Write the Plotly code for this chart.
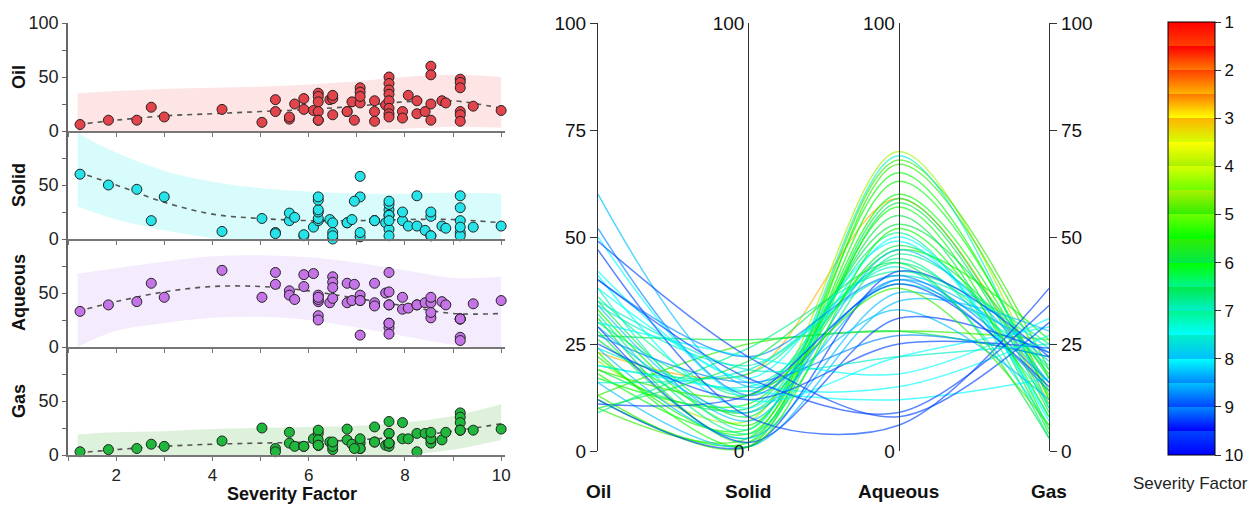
import plotly.graph_objects as go

# ---------------- scatter data (left panels) ----------------
severity = [1.25, 1.84, 2.43, 2.73, 3.00, 4.20, 5.03, 5.31, 5.31, 5.60, 5.60, 5.71, 5.90, 5.90,
            6.10, 6.20, 6.20, 6.20, 6.20, 6.20, 6.20, 6.44, 6.50, 6.50, 6.50, 6.50, 6.80, 6.80,
            6.90, 7.07, 7.07, 7.07, 7.07, 6.95, 7.37, 7.37, 7.37, 7.60, 7.67, 7.67, 7.67, 7.67,
            7.67, 7.67, 7.67, 7.67, 7.95, 7.95, 8.07, 8.25, 8.25, 8.42, 8.54, 8.54, 8.54, 8.54,
            8.77, 8.85, 9.15, 9.15, 9.15, 9.15, 9.15, 9.15, 9.42, 10.0]
oil = [6, 10, 10, 22, 13, 20, 8, 18, 29, 11, 13, 25, 30, 20,
       19, 35, 32, 27, 18, 10, 10, 29, 31, 15, 30, 33, 18, 18,
       27, 40, 36, 26, 32, 10, 28, 18, 9, 24, 50, 44, 38, 34,
       28, 21, 16, 13, 18, 12, 33, 16, 28, 18, 60, 52, 25, 10,
       28, 26, 48, 45, 40, 18, 15, 9, 23, 19]
solid = [60, 50, 46, 17, 39, 7, 19, 6, 5, 17, 24, 20, 3, 4,
         11, 17, 19, 25, 27, 36, 39, 18, 0, 15, 6, 3, 15, 15,
         18, 2, 6, 58, 39, 35, 17, 17, 17, 15, 9, 27, 32, 22,
         22, 17, 3, 35, 17, 25, 12, 40, 12, 8, 3, 3, 21, 25,
         12, 10, 6, 17, 3, 29, 40, 11, 11, 12]
aqueous = [33, 39, 42, 59, 46, 71, 46, 69, 58, 52, 48, 44, 56, 67,
           68, 29, 25, 42, 44, 48, 46, 41, 65, 60, 55, 45, 59, 41,
           43, 48, 43, 11, 43, 58, 41, 38, 59, 50, 22, 18, 12, 39,
           39, 51, 69, 22, 46, 35, 36, 39, 39, 41, 27, 32, 41, 46,
           42, 39, 9, 6, 26, 26, 26, 26, 40, 43]
gas = [3, 5, 6, 10, 8, 13, 25, 6, 3, 21, 11, 8, 8, 8,
       15, 20, 23, 9, 14, 9, 9, 12, 5, 11, 8, 12, 14, 24,
       10, 11, 15, 6, 6, 6, 12, 26, 12, 9, 20, 11, 20, 8,
       11, 11, 11, 31, 15, 30, 15, 3, 20, 20, 11, 15, 15, 21,
       14, 21, 39, 35, 30, 23, 23, 23, 23, 24]

phases = ["Oil", "Solid", "Aqueous", "Gas"]

# regression fits and confidence bands
fit_x = [1.2, 2, 3, 4, 5, 6, 7, 8, 9, 10]
oil_fit = [6, 10, 14, 16, 18, 20, 23, 27, 28, 21]
oil_upper = [35, 37, 39, 40, 41, 43, 46, 50, 52, 50]
oil_lower = [-5, -5, -4, -4, -3, -2, 0, 2, 4, 3]
solid_fit = [62, 50, 34, 23, 19, 17, 17, 18, 18, 15]
solid_upper = [98, 80, 63, 53, 47, 44, 42, 42, 43, 42]
solid_lower = [30, 18, 8, 1, -3, -5, -5, -5, -5, -6]
aqueous_fit = [33, 42, 51, 56, 56, 52, 45, 38, 31, 31]
aqueous_upper = [68, 73, 79, 84, 85, 83, 78, 71, 64, 65]
aqueous_lower = [0, 15, 22, 27, 28, 25, 18, 10, 2, -2]
gas_fit = [2, 5, 8, 10, 11, 12, 14, 17, 22, 29]
gas_upper = [19, 21, 22, 24, 25, 26, 27, 30, 36, 47]
gas_lower = [-10, -8, -6, -5, -4, -3, -2, 0, 5, 14]

# ---------------- parallel-coordinate data (middle panel) ----------------
par_severity = [2.7, 4.2, 5.0, 5.3, 5.5, 5.6, 5.9, 6.0, 6.2, 5.7, 6.1, 6.4, 6.6, 6.3,
                5.8, 6.8, 6.5, 6.9, 7.2, 6.7, 5.4, 6.0, 7.0, 7.3, 7.6, 7.5, 7.4, 7.8,
                7.7, 7.9, 7.6, 8.0, 8.2, 8.4, 8.1, 8.3, 8.7, 8.9, 9.0, 9.1, 8.9, 9.3,
                9.2, 9.4, 9.2, 9.0, 6.3, 5.6, 5.2, 7.1]
par_oil = [23, 21, 10, 13, 18, 12, 22, 28, 31, 33, 35, 19, 36, 26,
           17, 32, 30, 20, 34, 9, 13, 27, 16, 24, 41, 42, 38, 50,
           30, 38, 20, 16, 24, 60, 34, 29, 52, 40, 29, 25, 27, 47,
           40, 49, 12, 11, 10, 23, 19, 35]
par_solid = [18, 7, 3, 1, 5, 2, 4, 3, 2, 6, 8, 10, 13, 9,
             11, 4, 14, 18, 20, 24, 25, 26, 19, 15, 10, 17, 5, 12,
             22, 16, 14, 1, 3, 15, 7, 9, 13, 22, 2, 12, 16, 8,
             17, 22, 1, 13, 21, 1, 13, 19]
par_aqueous = [59, 70, 68, 67, 65, 63, 60, 59, 58, 57, 55, 53, 51, 48,
               47, 46, 45, 44, 43, 42, 28, 28, 41, 39, 50, 49, 69, 22,
               18, 15, 12, 35, 37, 33, 47, 40, 40, 41, 31, 25, 27, 6,
               9, 8, 42, 39, 44, 52, 38, 22]
par_gas = [11, 12, 19, 17, 12, 14, 13, 10, 9, 5, 4, 17, 3, 18,
           26, 19, 11, 16, 6, 25, 26, 22, 24, 20, 7, 8, 10, 29,
           31, 27, 17, 28, 23, 12, 16, 21, 14, 16, 23, 24, 22, 38,
           34, 30, 22, 15, 3, 8, 6, 25]

sev_ticks = [1, 2, 3, 4, 5, 6, 7, 8, 9, 10]
value_ticks = [0, 25, 50, 75, 100]

# colour bands of the severity scale (1.0-1.5, 1.5-2.0, ... 9.5-10)
band_colors = ["#ff0000", "#ff4000", "#ff7a00", "#ffb400", "#ffff00", "#d6ff00",
               "#a8f200", "#6cff00", "#30ee00", "#00ff00", "#00ea48", "#00f58c",
               "#00f0c8", "#00ffff", "#00c0ff", "#0088ff", "#0044ff", "#0000ff"]


def sev_color(s):
    i = min(int((s - 1.0) / 0.5), len(band_colors) - 1)
    return band_colors[max(i, 0)]


# discrete colourscale on reversed values (-10 bottom ... -1 top)
colorscale = []
for i, c in enumerate(band_colors):
    s_lo = 1.0 + 0.5 * i
    t_hi = (10 - s_lo) / 9
    t_lo = (10 - s_lo - 0.5) / 9
    colorscale.append((max(t_lo, 0), c))
    colorscale.append((min(t_hi, 1), c))
colorscale.sort(key=lambda p: p[0])

W, H = 1255, 505


def px(x):
    return x / W


def py(y):
    return 1 - y / H


FONT = "Arial, Liberation Sans, sans-serif"
fig = go.Figure()

panel_vals = [oil, solid, aqueous, gas]
panel_fit = [oil_fit, solid_fit, aqueous_fit, gas_fit]
panel_up = [oil_upper, solid_upper, aqueous_upper, gas_upper]
panel_lo = [oil_lower, solid_lower, aqueous_lower, gas_lower]
marker_fill = ["#e3434a", "#26e3ea", "#c474e6", "#1fb83c"]
band_fill = ["rgba(252,208,208,0.55)", "rgba(190,250,250,0.6)",
             "rgba(236,222,250,0.6)", "rgba(208,236,204,0.7)"]
bounds = [23, 131, 239, 347, 455]

for k in range(4):
    xa = "x" if k == 0 else f"x{k+1}"
    ya = "y" if k == 0 else f"y{k+1}"
    fig.add_trace(go.Scatter(x=fit_x, y=panel_lo[k], mode="lines", line=dict(width=0, shape="spline"),
                             xaxis=xa, yaxis=ya, showlegend=False, hoverinfo="skip"))
    fig.add_trace(go.Scatter(x=fit_x, y=panel_up[k], mode="lines", line=dict(width=0, shape="spline"),
                             fill="tonexty", fillcolor=band_fill[k],
                             xaxis=xa, yaxis=ya, showlegend=False, hoverinfo="skip"))
    fig.add_trace(go.Scatter(x=fit_x, y=panel_fit[k], mode="lines",
                             line=dict(color="#555555", width=1.6, dash="5px,5px", shape="spline"),
                             xaxis=xa, yaxis=ya, showlegend=False, hoverinfo="skip"))
    fig.add_trace(go.Scatter(x=severity, y=panel_vals[k], mode="markers",
                             marker=dict(size=10, color=marker_fill[k], line=dict(color="#222222", width=1)),
                             cliponaxis=False, xaxis=xa, yaxis=ya, showlegend=False))
    top, bot = bounds[k], bounds[k + 1]
    xkey = "xaxis" if k == 0 else f"xaxis{k+1}"
    ykey = "yaxis" if k == 0 else f"yaxis{k+1}"
    fig.layout[xkey] = dict(domain=[px(68), px(505)], anchor=ya, range=[1.0, 10.08],
                            automargin=False,
                            showline=True, linecolor="#777777", linewidth=1.5,
                            ticks="outside", ticklen=4, tickcolor="#777777",
                            tickmode="array", tickvals=sev_ticks,
                            ticktext=[str(v) if v % 2 == 0 else "" for v in sev_ticks],
                            showticklabels=(k == 3), showgrid=False, zeroline=False,
                            tickfont=dict(size=17, color="#222222", family=FONT))
    tv = [0, 25, 50, 75, 100]
    tt = ["0", "", "50", "", "100" if k == 0 else ""]
    fig.layout[ykey] = dict(domain=[py(bot), py(top)], anchor=xa, range=[0, 100],
                            automargin=False,
                            showline=True, linecolor="#666666", linewidth=1.5,
                            ticks="outside", ticklen=4, tickcolor="#666666",
                            tickmode="array", tickvals=tv, ticktext=tt,
                            showgrid=False, zeroline=False,
                            tickfont=dict(size=18, color="#222222", family=FONT))
    fig.add_annotation(text=f"<b>{phases[k]}</b>", xref="paper", yref="paper",
                       x=px(19), y=py((top + bot) / 2), xanchor="center", yanchor="middle",
                       textangle=-90, showarrow=False,
                       font=dict(size=18, color="#111111", family=FONT))

fig.add_annotation(text="<b>Severity Factor</b>", xref="paper", yref="paper",
                   x=px(292), y=py(494), xanchor="center", yanchor="middle", showarrow=False,
                   font=dict(size=18, color="#111111", family=FONT))

# ---------------- parallel coordinates ----------------
axis_pos = [0, 1, 2, 3]
for i in range(len(par_severity)):
    fig.add_trace(go.Scatter(x=axis_pos,
                             y=[par_oil[i], par_solid[i], par_aqueous[i], par_gas[i]],
                             mode="lines", line=dict(color=sev_color(par_severity[i]), width=1.5,
                                                     shape="spline", smoothing=0.9),
                             opacity=0.65, xaxis="x5", yaxis="y5", showlegend=False,
                             hoverinfo="skip"))

for ya in ["y6", "y7", "y8"]:
    fig.add_trace(go.Scatter(x=[None], y=[None], xaxis="x5", yaxis=ya, showlegend=False,
                             hoverinfo="skip"))

# colour bar
fig.add_trace(go.Scatter(x=[None], y=[None], mode="markers", xaxis="x5", yaxis="y5",
                         showlegend=False, hoverinfo="skip",
                         marker=dict(color=[-s for s in par_severity], cmin=-10, cmax=-1,
                                     colorscale=colorscale, showscale=True,
                                     colorbar=dict(thickness=47, thicknessmode="pixels",
                                                   len=433 / H, lenmode="fraction",
                                                   x=px(1168), xanchor="left", xpad=0,
                                                   y=py(238.5), yanchor="middle", ypad=0,
                                                   outlinecolor="#000000", outlinewidth=1,
                                                   ticks="outside", ticklen=6, tickcolor="#333333",
                                                   tickmode="array",
                                                   tickvals=[-s for s in sev_ticks],
                                                   ticktext=[str(s) for s in sev_ticks],
                                                   tickfont=dict(size=17, color="#111111", family=FONT)))))

mid_dom_y = [py(451), py(23)]
axis_common = dict(range=[0, 100], showgrid=False, zeroline=False, showline=True,
                   automargin=False, linecolor="#333333", linewidth=1.2,
                   tickfont=dict(size=19, color="#111111", family=FONT))
fig.layout.xaxis5 = dict(domain=[px(598), px(1049)], anchor="y5", range=[0, 3], visible=False,
                         automargin=False)
fig.layout.yaxis5 = dict(domain=mid_dom_y, anchor="x5", side="left", ticks="outside", ticklen=7,
                         tickcolor="#333333", tickmode="array", tickvals=value_ticks, **axis_common)
fig.layout.yaxis6 = dict(overlaying="y5", anchor="x5", side="right", ticks="outside", ticklen=7,
                         tickcolor="#333333", tickmode="array", tickvals=value_ticks, **axis_common)
fig.layout.yaxis7 = dict(overlaying="y5", anchor="free", position=px(748.3), side="left", ticks="",
                         tickmode="array", tickvals=[0, 100], **axis_common)
fig.layout.yaxis8 = dict(overlaying="y5", anchor="free", position=px(898.7), side="left", ticks="",
                         tickmode="array", tickvals=[0, 100], **axis_common)

for j, name in enumerate(phases):
    fig.add_annotation(text=f"<b>{name}</b>", xref="x5", yref="paper", x=axis_pos[j], y=py(491),
                       xanchor="center", yanchor="middle",
                       showarrow=False, font=dict(size=19, color="#111111", family=FONT))

fig.add_annotation(text="Severity Factor", xref="paper", yref="paper", x=px(1190), y=py(483),
                   xanchor="center", yanchor="middle",
                   showarrow=False, font=dict(size=17, color="#222222", family=FONT))

fig.update_layout(width=W, height=H, margin=dict(l=0, r=0, t=0, b=0, autoexpand=False),
                  paper_bgcolor="white", plot_bgcolor="white", showlegend=False,
                  font=dict(family=FONT))

fig.write_html("out.html", config={"displayModeBar": False},
               post_script="document.body.style.margin='0px';document.body.style.overflow='hidden';")
